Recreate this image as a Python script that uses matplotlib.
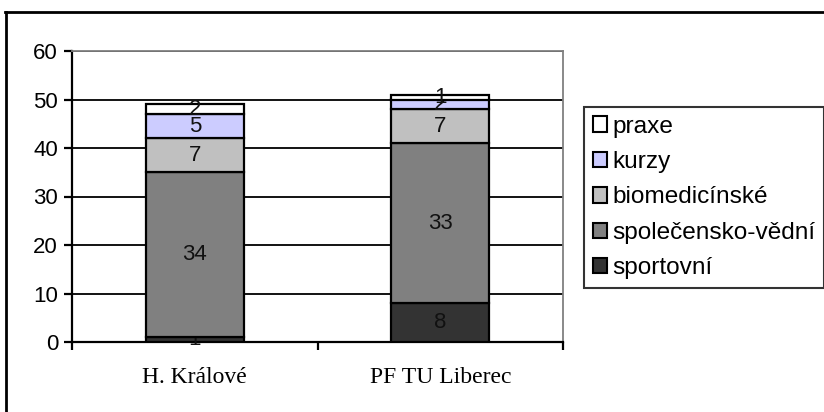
import numpy as np
import matplotlib
matplotlib.use("Agg")
import matplotlib.pyplot as plt
from matplotlib.lines import Line2D

# data
schools = ["H. Králové", "PF TU Liberec"]
series = ["sportovní", "společensko-vědní", "biomedicínské", "kurzy", "praxe"]
sportovni = [1, 8]
spolecensko = [34, 33]
biomed = [7, 7]
kurzy = [5, 2]
praxe = [2, 1]
colors = ["#333333", "#808080", "#C0C0C0", "#CCCCFF", "#FFFFFF"]

values = [sportovni, spolecensko, biomed, kurzy, praxe]

plt.rcParams['font.family'] = ['Liberation Sans', 'DejaVu Sans']

fig = plt.figure(figsize=(8.24, 4.12), dpi=100)
ax = fig.add_axes([72 / 824, 1 - 342 / 412, (563 - 72) / 824, (342 - 51) / 412])

x = np.arange(len(schools))
bottom = np.zeros(len(schools))
for name, vals, col in zip(series, values, colors):
    b = ax.bar(x, vals, 0.4, bottom=bottom, color=col, edgecolor="black",
               linewidth=1.6, label=name, zorder=3)
    ax.bar_label(b, labels=[str(v) for v in vals], label_type="center",
                 fontsize=16, color="#111111")
    bottom += np.array(vals)

ax.set_xlim(-0.5, 1.5)
ax.set_ylim(0, 60)
ax.set_yticks(range(0, 61, 10))
ax.yaxis.grid(True, color="black", linewidth=1.3, zorder=0)
ax.set_axisbelow(True)

ax.set_xticks(x)
ax.set_xticklabels(schools, fontfamily="Liberation Serif", fontsize=17)
ax.tick_params(axis="x", length=0, pad=18)
ax.set_xticks([-0.5, 0.5, 1.5], minor=True)
ax.tick_params(axis="x", which="minor", length=6, width=1.6, direction="out")
ax.tick_params(axis="y", length=6, width=1.6, labelsize=16, pad=4)

for s in ["left", "bottom"]:
    ax.spines[s].set_linewidth(1.6)
    ax.spines[s].set_color("black")
for s in ["top", "right"]:
    ax.spines[s].set_linewidth(1.3)
    ax.spines[s].set_color("#808080")

handles = [plt.Rectangle((0, 0), 1, 1, facecolor=c, edgecolor="black", linewidth=1.5)
           for c in colors]
leg = fig.legend(handles[::-1], series[::-1], loc="upper left",
                 bbox_to_anchor=(584 / 824, 1 - 107 / 412),
                 fontsize=17.6, frameon=True, fancybox=False, handlelength=0.6,
                 handleheight=0.6, handletextpad=0.2, labelspacing=0.55,
                 borderpad=0.35, borderaxespad=0.0)
leg.get_frame().set_edgecolor("black")
leg.get_frame().set_linewidth(1.5)

# outer chart border (top and left edge visible)
fig.add_artist(Line2D([5 / 824, 1], [1 - 12 / 412, 1 - 12 / 412], color="black",
                      linewidth=2, transform=fig.transFigure))
fig.add_artist(Line2D([6 / 824, 6 / 824], [0, 1 - 12 / 412], color="black",
                      linewidth=2, transform=fig.transFigure))

fig.savefig("out.png", dpi=100)
